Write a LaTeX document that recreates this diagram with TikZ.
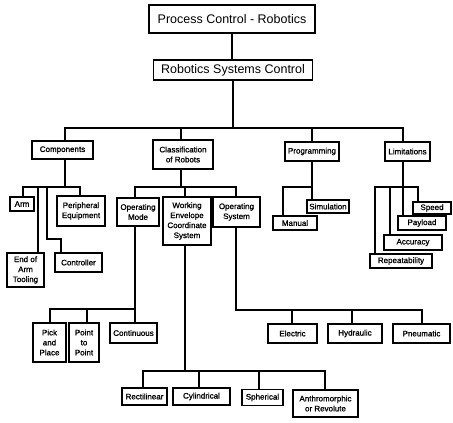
\documentclass[tikz,border=0pt]{standalone}
\usepackage{fontspec}
\setmainfont{Liberation Sans}[BoldFont=Liberation Sans, BoldFeatures={FakeBold=1.2}]
\begin{document}
\begin{tikzpicture}[x=1pt,y=-1pt,
  box/.style={draw, line width=1.5pt, inner sep=0pt, align=center, font=\fontsize{8}{10}\selectfont\bfseries},
  bigbox/.style={box, line width=1.3pt, font=\fontsize{12.5}{14}\selectfont\mdseries},
  bx/.style n args={2}{minimum width=#1pt, minimum height=#2pt},
  conn/.style={line width=1.3pt}]
\path[use as bounding box] (0,0) rectangle (453,423);
% boxes
\node[bigbox, bx={166}{28}] (pcr) at (232,19) {Process Control - Robotics};
\node[bigbox, bx={159}{20}] (rsc) at (233,70) {Robotics Systems Control};
\node[box, bx={61}{18}] (comp) at (62.5,150) {Components};
\node[box, bx={60}{29}] (cls) at (183,154.5) {Classification\\of Robots};
\node[box, bx={54}{19}] (prog) at (312,151.5) {Programming};
\node[box, bx={45}{19}] (lim) at (407.5,151.5) {Limitations};
\node[box, bx={24}{14}] (arm) at (22,204) {Arm};
\node[box, bx={48}{30}] (periph) at (81,211) {Peripheral\\Equipment};
\node[box, bx={37}{34}] (eat) at (25.5,270) {End of\\Arm\\Tooling};
\node[box, bx={47}{19}] (ctrl) at (78.5,262.5) {Controller};
\node[box, bx={42}{28}] (opm) at (138,212) {Operating\\Mode};
\node[box, bx={48}{48}] (wecs) at (187,221) {Working\\Envelope\\Coordinate\\System};
\node[box, bx={47}{30}] (ops) at (236.5,212) {Operating\\System};
\node[box, bx={42}{13}] (sim) at (328,206.5) {Simulation};
\node[box, bx={44}{14}] (man) at (295,223) {Manual};
\node[box, bx={38}{12}] (speed) at (432,208) {Speed};
\node[box, bx={48}{14}] (payload) at (422,223) {Payload};
\node[box, bx={58}{15}] (acc) at (413,242.5) {Accuracy};
\node[box, bx={62}{14}] (rep) at (401,261) {Repeatability};
\node[box, bx={33}{39}] (pick) at (49.5,342.5) {Pick\\and\\Place};
\node[box, bx={30}{39}] (p2p) at (84,342.5) {Point\\to\\Point};
\node[box, bx={47}{20}] (cont) at (133.5,333) {Continuous};
\node[box, bx={49}{19}] (elec) at (292.5,333.5) {Electric};
\node[box, bx={54}{19}] (hyd) at (355,333.5) {Hydraulic};
\node[box, bx={57}{19}] (pneu) at (421.5,333.5) {Pneumatic};
\node[box, bx={45}{17}] (rect) at (144.5,396.5) {Rectilinear};
\node[box, bx={57}{17}] (cyl) at (201.5,396.5) {Cylindrical};
\node[box, bx={41}{16}] (sph) at (262.5,397.5) {Spherical};
\node[box, bx={65}{27}] (anth) at (325.5,403.5) {Anthromorphic\\or Revolute};
% junction coordinates
\coordinate (b1l) at (65,128); \coordinate (b1r) at (403,128);
\coordinate (b1c) at (181,128); \coordinate (b1p) at (312,128);
\coordinate (c0) at (65,187); \coordinate (cA) at (23,187); \coordinate (cP) at (80,187);
\coordinate (cE) at (38,187); \coordinate (cC) at (47,187); \coordinate (cC2) at (61,239);
\coordinate (k0) at (181,187); \coordinate (kM) at (135,187); \coordinate (kS) at (236,187); \coordinate (kW) at (185,187);
\coordinate (m0) at (135,309); \coordinate (mP) at (50,309); \coordinate (mQ) at (87,309);
\coordinate (w0) at (185,371); \coordinate (wR) at (143,371); \coordinate (wA) at (325,371);
\coordinate (wC) at (199,371); \coordinate (wS) at (259,371);
\coordinate (o0) at (236,310); \coordinate (oP) at (422,310); \coordinate (oE) at (292,310); \coordinate (oH) at (352,310);
\coordinate (p0) at (312,187); \coordinate (pM) at (283,187);
\coordinate (l0) at (403,187); \coordinate (lR) at (375,187); \coordinate (lS) at (418,187); \coordinate (lA) at (390,187);
% connectors
\draw[conn] (pcr.south) -- (rsc.north -| pcr.south);
\draw[conn] (rsc.south) -- (rsc.south |- b1l);
\draw[conn] (comp.north -| b1l) -- (b1l) -- (b1r) -- (lim.north -| b1r);
\draw[conn] (b1c) -- (cls.north -| b1c);
\draw[conn] (b1p) -- (prog.north -| b1p);
% components
\draw[conn] (comp.south -| c0) -- (c0);
\draw[conn] (arm.north -| cA) -- (cA) -- (cP) -- (periph.north -| cP);
\draw[conn] (cE) -- (eat.north -| cE);
\draw[conn] (cC) |- (cC2) -- (ctrl.north -| cC2);
% classification
\draw[conn] (cls.south -| k0) -- (k0);
\draw[conn] (opm.north -| kM) -- (kM) -- (kS) -- (ops.north -| kS);
\draw[conn] (kW) -- (wecs.north -| kW);
% operating mode
\draw[conn] (opm.south -| m0) -- (m0) -- (cont.north -| m0);
\draw[conn] (pick.north -| mP) -- (mP) -- (m0);
\draw[conn] (mQ) -- (p2p.north -| mQ);
% working envelope
\draw[conn] (wecs.south -| w0) -- (w0);
\draw[conn] (rect.north -| wR) -- (wR) -- (wA) -- (anth.north -| wA);
\draw[conn] (wC) -- (cyl.north -| wC);
\draw[conn] (wS) -- (sph.north -| wS);
% operating system
\draw[conn] (ops.south -| o0) -- (o0) -- (oP) -- (pneu.north -| oP);
\draw[conn] (oE) -- (elec.north -| oE);
\draw[conn] (oH) -- (hyd.north -| oH);
% programming
\draw[conn] (prog.south -| p0) -- (p0) -- (sim.north -| p0);
\draw[conn] (p0) -- (pM) -- (man.north -| pM);
% limitations
\draw[conn] (lim.south -| l0) -- (l0) -- (payload.north -| l0);
\draw[conn] (rep.north -| lR) -- (lR) -- (lS) -- (speed.north -| lS);
\draw[conn] (lA) -- (acc.north -| lA);
\end{tikzpicture}
\end{document}
